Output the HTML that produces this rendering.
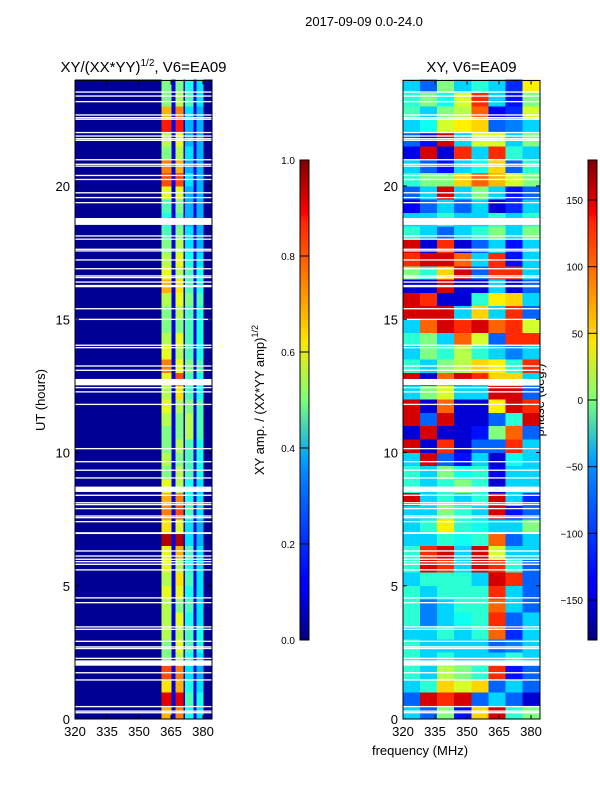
<!DOCTYPE html>
<html><head><meta charset="utf-8"><style>
html,body{margin:0;padding:0;background:#fff;width:600px;height:800px;overflow:hidden}
svg{display:block;font-family:"Liberation Sans",sans-serif}
</style></head><body>
<svg id="root" width="600" height="800" viewBox="0 0 600 800">
<text x="364" y="26" font-size="13" text-anchor="middle">2017-09-09 0.0-24.0</text>
<text x="143.5" y="72" font-size="15" text-anchor="middle">XY/(XX*YY)<tspan font-size="10" dy="-6">1/2</tspan><tspan dy="6">, V6=EA09</tspan></text>
<text x="471.5" y="72" font-size="15" text-anchor="middle">XY, V6=EA09</text>
<text x="45" y="400" font-size="13" text-anchor="middle" transform="rotate(-90 45 400)">UT (hours)</text>
<text x="420" y="755" font-size="13" text-anchor="middle">frequency (MHz)</text>
<text x="264" y="400" font-size="13" text-anchor="middle" transform="rotate(-90 264 400)">XY amp. / (XX*YY amp)<tspan font-size="9" dy="-6">1/2</tspan></text>
<text x="544" y="400" font-size="13" text-anchor="middle" transform="rotate(-90 544 400)">phase (deg.)</text>
<g id="gL"></g>
<g id="gR"></g>
<g id="gAx"></g>
<defs><linearGradient id="jet" x1="0" y1="1" x2="0" y2="0">
<stop offset="0" stop-color="#00007f"/><stop offset="0.11" stop-color="#0000ff"/><stop offset="0.125" stop-color="#0000ff"/><stop offset="0.34" stop-color="#0080ff"/><stop offset="0.35" stop-color="#0088ff"/><stop offset="0.375" stop-color="#00a0ff"/><stop offset="0.5" stop-color="#7cff79"/><stop offset="0.625" stop-color="#ffe600"/><stop offset="0.66" stop-color="#ffc400"/><stop offset="0.875" stop-color="#ff2000"/><stop offset="0.89" stop-color="#ff0000"/><stop offset="1" stop-color="#7f0000"/>
</linearGradient></defs>
<rect x="300" y="160" width="9" height="480" fill="url(#jet)" stroke="#000" stroke-width="1"/>
<rect x="588" y="160" width="9" height="480" fill="url(#jet)" stroke="#000" stroke-width="1"/>
<g id="gCb"></g>
</svg>
<script>
// ---- data ----
const ampBandEdges=[320,360.6,365.3,367,370.9,371.5,375.6,377,380.2,384.2];
const ampX1=[0.7,0.9,0.65,0.8,0.5,0.5,0.55,0.55,0.55,0.6,0.55,0.6,0.6,0.95,0.65,0.75,0.7,0.6,0.5,0.55,0.5,0.5,0.55,0.6,
0.55,0.6,0.75,0.6,0.55,0.5,0.5,0.55,0.7,0.6,0.55,0.5,0.45,0.4,0.45,0.6,0.8,0.75,0.5,0.55,0.85,0.7,0.5,0.5];
const ampX2=[0.75,0.9,0.7,0.75,0.55,0.6,0.55,0.6,0.5,0.6,0.65,0.55,0.7,0.95,0.6,0.8,0.75,0.55,0.55,0.5,0.55,0.5,0.5,0.55,
0.65,0.8,0.6,0.55,0.6,0.5,0.55,0.6,0.65,0.55,0.6,0.55,0.5,0.45,0.5,0.6,0.8,0.7,0.55,0.6,0.85,0.75,0.55,0.5];
const ampC1=[0.4,0.45,0.4,0.35,0.4,0.45,0.45,0.4,0.45,0.4,0.45,0.4,0.45,0.35,0.35,0.45,0.4,0.4,0.45,0.45,0.45,0.55,0.55,0.5,
0.45,0.45,0.5,0.45,0.45,0.45,0.45,0.5,0.45,0.45,0.4,0.35,0.35,0.3,0.3,0.3,0.35,0.3,0.35,0.3,0.3,0.35,0.45,0.4];
const ampC2=[0.35,0.4,0.35,0.3,0.35,0.4,0.4,0.35,0.35,0.35,0.35,0.35,0.35,0.3,0.3,0.35,0.35,0.35,0.4,0.4,0.4,0.45,0.45,0.45,
0.4,0.4,0.45,0.4,0.4,0.4,0.4,0.45,0.4,0.4,0.35,0.3,0.3,0.3,0.3,0.3,0.3,0.3,0.3,0.3,0.3,0.3,0.35,0.35];
const ampBaseDark=0.02, ampGap=0.1;
const phaseBandEdges=[320,328,336,344,352,360,368,376,384.2];
const phaseRows=[
[-60,-100,0,-130,60,150,-30,0],[-100,150,120,150,-100,-60,-100,-150],[-60,-30,60,30,60,-100,-60,-100],[-30,-60,20,0,-30,120,-130,-100],
[-30,-60,-30,-60,-60,-60,-30,-60],[-30,-60,-60,-60,-60,-100,-90,-60],[-60,-60,-30,-60,-30,100,-120,-60],[-30,-90,-60,-40,-30,120,-100,-60],
[-30,-90,-60,-30,-30,100,-60,-100],[-30,-60,-30,-30,-30,120,-60,-100],[-60,-30,-30,-30,-60,150,120,-100],[-30,150,120,-60,150,120,-30,-100],
[-30,120,150,-60,150,30,-60,-60],[-60,-60,-30,-40,-30,100,-100,-60],[-60,-30,50,-30,-40,-60,-60,0],[-60,-60,0,-30,-60,150,-130,-100],
[150,-60,-30,-60,-30,150,-60,-120],[-30,-60,-30,0,-30,-150,-60,-60],[-30,-60,0,-40,-30,-140,-60,-60],[-60,150,-100,-130,-60,-150,-40,-60],
[150,-150,120,-150,-100,-100,120,-60],[-150,150,-150,-150,-130,0,100,-100],[150,-100,150,-150,-150,-100,-30,150],[150,-150,100,-150,-150,50,150,120],
[-60,0,30,-60,-60,150,150,-100],[150,-150,100,150,120,60,60,-60],[-30,-60,0,20,60,50,-30,120],[-60,0,-30,20,-30,-60,-90,-60],
[-30,0,-60,100,30,-100,120,120],[-60,100,150,120,150,100,120,30],[150,150,150,-60,60,-60,120,-100],[150,120,-150,-150,-30,50,60,-60],
[-150,-150,150,-150,-150,-60,-150,-100],[0,-30,60,150,-100,120,120,-60],[120,150,150,100,-60,120,-130,-60],[150,-150,120,-150,-100,-60,-130,-60],
[-30,-60,-100,-60,-30,0,-60,0],[-60,-60,-30,-60,-60,-30,-60,-30],[-140,-100,-60,-100,-60,-150,-120,-60],[-100,-60,150,-60,0,-60,-130,-100],
[-30,0,0,60,100,70,30,0],[-60,-100,-130,-60,-40,60,-100,-30],[-140,150,-150,120,-60,120,-30,-60],[-100,-130,150,-60,30,30,-60,0],
[-60,-40,30,50,60,-100,-90,-60],[-20,-60,0,20,100,-140,-120,30],[-30,0,-40,30,120,-60,-130,0],[-60,-100,0,-60,-30,-60,-120,50]];
const flagStarts=[23.50,23.35,23.14,22.64,22.54,22.48,21.98,21.85,21.75,21.69,20.96,20.79,20.72,20.37,20.22,19.72,19.54,19.35,18.54,18.10,17.98,17.60,17.54,17.20,16.87,16.60,16.54,16.37,16.20,15.37,14.97,14.00,13.91,13.22,13.06,12.52,12.41,12.25,
11.78,10.12,9.63,9.31,9.02,8.52,8.37,8.09,8.02,7.87,7.59,7.53,7.38,6.94,6.28,6.09,5.97,5.88,5.78,5.57,4.52,4.34,3.43,3.34,2.89,2.68,2.62,2.25,2.0,1.71,1.44,0.44,0.27,0.21];
const flagLens=[0.05,0.05,0.05,0.05,0.05,0.05,0.05,0.05,0.05,0.05,0.05,0.05,0.05,0.05,0.05,0.05,0.05,0.05,0.26,0.05,0.05,0.05,0.05,0.05,0.05,0.05,0.05,0.05,0.09,0.05,0.05,0.05,0.05,0.05,0.05,0.24,0.05,0.05,
0.05,0.05,0.05,0.05,0.05,0.2,0.05,0.05,0.05,0.05,0.05,0.05,0.05,0.07,0.05,0.05,0.05,0.05,0.05,0.05,0.05,0.05,0.05,0.05,0.05,0.05,0.05,0.05,0.2,0.05,0.05,0.05,0.05,0.05];
const xTicks=[320,335,350,365,380];
const yTicks=[0,5,10,15,20];
const ampTicks=[0.0,0.2,0.4,0.6,0.8,1.0];
const phaseTicks=[-150,-100,-50,0,50,100,150];
// ---- helpers ----
const NS='http://www.w3.org/2000/svg';
const Y0=719,PXH=26.65,FMIN=320,FMAX=384.2;
function yS(t){return Y0-t*PXH;}
function xS(f,x0){return x0+(f-FMIN)/(FMAX-FMIN)*137;}
function cl(v){return Math.max(0,Math.min(1,v));}
function jet(v){v=cl(v);const r=cl(1.5-Math.abs(4*v-3)),g=cl(1.5-Math.abs(4*v-2)),b=cl(1.5-Math.abs(4*v-1));
return 'rgb('+Math.round(r*255)+','+Math.round(g*255)+','+Math.round(b*255)+')';}
function mk(tag,attrs,parent){const e=document.createElementNS(NS,tag);for(const k in attrs)e.setAttribute(k,attrs[k]);parent.appendChild(e);return e;}
const gL=document.getElementById('gL'),gR=document.getElementById('gR'),gAx=document.getElementById('gAx'),gCb=document.getElementById('gCb');
// ---- left amplitude heatmap ----
const XL=75,XR=403;
for(let r=0;r<48;r++){
  const vals=[ampBaseDark,ampX1[r],ampGap,ampX2[r],ampGap,ampC1[r],ampGap,ampC2[r],ampBaseDark];
  for(let b=0;b<vals.length;b++){
    const x1=xS(ampBandEdges[b],XL),x2=xS(ampBandEdges[b+1],XL);
    const e=mk('rect',{x:x1,y:yS((r+1)/2),width:x2-x1+0.3,height:PXH/2+0.3,fill:jet(vals[b]),'shape-rendering':'crispEdges'},gL);
    
    
  }
}
// ---- right phase heatmap ----
for(let r=0;r<phaseRows.length;r++){
  for(let b=0;b<phaseRows[r].length;b++){
    const x1=xS(phaseBandEdges[b],XR),x2=xS(phaseBandEdges[b+1],XR);
    const e=mk('rect',{x:x1,y:yS((r+1)/2),width:x2-x1+0.3,height:PXH/2+0.3,fill:jet((phaseRows[r][b]+180)/360),'shape-rendering':'crispEdges'},gR);
    
    
  }
}
// ---- flagged times ----
for(let i=0;i<flagStarts.length;i++){
  [XL,XR].forEach(x0=>{
    const h=Math.max(1.3,flagLens[i]*PXH);
    const e=mk('rect',{x:x0,y:yS(flagStarts[i]+flagLens[i]),width:137,height:h,fill:'#fff'},x0===XL?gL:gR);
    
    
  });
}
// ---- axes ----
[XL,XR].forEach((x0,pi)=>{
  const fr=mk('rect',{x:x0,y:80.5,width:137,height:638.5,fill:'none',stroke:'#000','stroke-width':1},gAx);
  
  
  xTicks.forEach(t=>{
    const x=xS(t,x0);
    mk('line',{x1:x,y1:719,x2:x,y2:715,stroke:'#000'},gAx);
    mk('line',{x1:x,y1:80.5,x2:x,y2:84.5,stroke:'#000'},gAx);
    const tx=mk('text',{x:x,y:736,'font-size':13,'text-anchor':'middle'},gAx);
    tx.textContent=t;
    
    
  });
  yTicks.forEach(t=>{
    const y=yS(t);
    mk('line',{x1:x0,y1:y,x2:x0+4,y2:y,stroke:'#000'},gAx);
    mk('line',{x1:x0+137,y1:y,x2:x0+133,y2:y,stroke:'#000'},gAx);
    const tx=mk('text',{x:x0-5,y:y+5,'font-size':13,'text-anchor':'end'},gAx);
    tx.textContent=t;
    
    
  });
});
// ---- colorbar ticks ----
ampTicks.forEach(t=>{
  const y=640-t*480;
  mk('line',{x1:300,y1:y,x2:309,y2:y,stroke:'#000'},gCb);
  const tx=mk('text',{x:295,y:y+4,'font-size':10,'text-anchor':'end'},gCb);
  tx.textContent=t.toFixed(1);
  
  
});
phaseTicks.forEach(t=>{
  const y=640-(t+180)/360*480;
  mk('line',{x1:588,y1:y,x2:597,y2:y,stroke:'#000'},gCb);
  const tx=mk('text',{x:583,y:y+4,'font-size':10,'text-anchor':'end'},gCb);
  tx.textContent=t<0?'\u2212'+(-t):t;
  
  
});
</script>
</body></html>
